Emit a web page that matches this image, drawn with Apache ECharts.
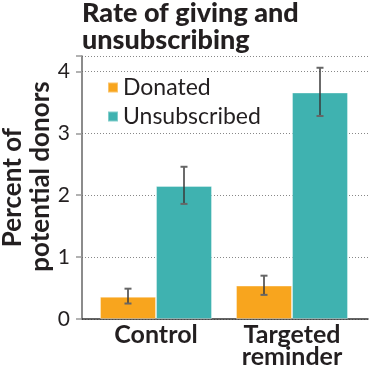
<!DOCTYPE html>
<html>
<head>
<meta charset="utf-8">
<script src="https://cdn.jsdelivr.net/npm/echarts@6/dist/echarts.min.js"></script>
<style>
html,body{margin:0;padding:0;background:#fff;}
#chart{width:370px;height:370px;}
</style>
</head>
<body>
<div id="chart"></div>
<script>
const categories = ['Control', 'Targeted\nreminder'];
const seriesNames = ['Donated', 'Unsubscribed'];
const donated = [0.36, 0.54];
const donatedLow = [0.25, 0.39];
const donatedHigh = [0.49, 0.70];
const unsubscribed = [2.15, 3.66];
const unsubscribedLow = [1.86, 3.28];
const unsubscribedHigh = [2.46, 4.06];
const yTicks = [0, 1, 2, 3, 4];

const colors = ['#F8A51E', '#3FB2B0'];
const BAR_W = 56;
const FONT = 'Lato, "Open Sans", sans-serif';

const errData = [];
categories.forEach((c, i) => {
  errData.push([i, donatedLow[i], donatedHigh[i], 0]);
  errData.push([i, unsubscribedLow[i], unsubscribedHigh[i], 1]);
});

const nameStyle = { fontFamily: FONT, fontSize: 26, fontWeight: 'bold', color: '#231f20', lineHeight: 28 };

const chart = echarts.init(document.getElementById('chart'));
chart.setOption({
  animation: false,
  title: {
    text: 'Rate of giving and\nunsubscribing',
    left: 82, top: 0, padding: 0,
    textStyle: { fontFamily: FONT, fontSize: 27, fontWeight: 900, color: '#231f20', lineHeight: 27 }
  },
  legend: {
    orient: 'vertical',
    left: 107, top: 76, padding: 0,
    itemWidth: 10, itemHeight: 10, itemGap: 6,
    icon: 'rect',
    data: seriesNames,
    textStyle: { fontFamily: FONT, fontSize: 23, color: '#231f20', lineHeight: 23 }
  },
  grid: [
    { left: 88, right: 10, top: 56, bottom: 51, outerBoundsMode: 'none', containLabel: false },
    { left: 82, right: 2, top: 56, bottom: 51, outerBoundsMode: 'none', containLabel: false }
  ],
  xAxis: [
    {
      gridIndex: 0, type: 'category', data: categories,
      axisLine: { show: false }, axisTick: { show: false },
      axisLabel: { fontFamily: FONT, fontSize: 25, fontWeight: 'bold', color: '#231f20', lineHeight: 22, margin: 5 }
    },
    {
      gridIndex: 1, type: 'value', min: 0, max: 1,
      axisLine: { show: true, lineStyle: { color: '#333', width: 1.5 } },
      axisTick: { show: false }, axisLabel: { show: false }, splitLine: { show: false }
    }
  ],
  yAxis: [
    { gridIndex: 0, type: 'value', min: 0, max: 4.25, show: false, splitLine: { show: false } },
    {
      gridIndex: 1, type: 'value', min: 0, max: 4.25, interval: 1,
      name: '{a|Percent of}\n{b|potential donors}',
      nameLocation: 'middle', nameGap: 27, nameMoveOverlap: false,
      nameTextStyle: Object.assign({}, nameStyle, {
        rich: {
          a: Object.assign({}, nameStyle),
          b: Object.assign({}, nameStyle, { padding: [0, 0, 0, 22] })
        }
      }),
      axisLine: { show: true, lineStyle: { color: '#666', width: 1.5 } },
      axisTick: { show: true, length: 6, lineStyle: { color: '#999', width: 1.5 } },
      axisLabel: {
        fontFamily: FONT, fontSize: 21, color: '#231f20', margin: 12,
        formatter: v => (yTicks.includes(v) ? String(v) : '')
      },
      splitLine: { show: true, lineStyle: { color: '#888', type: [1, 2], width: 1 } }
    }
  ],
  series: [
    {
      name: seriesNames[0], type: 'bar', xAxisIndex: 0, yAxisIndex: 0,
      data: donated, barWidth: BAR_W, barGap: '0%',
      itemStyle: { color: colors[0], borderColor: 'rgba(255,255,255,0.35)', borderWidth: 1 }
    },
    {
      name: seriesNames[1], type: 'bar', xAxisIndex: 0, yAxisIndex: 0,
      data: unsubscribed, barWidth: BAR_W, barGap: '0%',
      itemStyle: { color: colors[1], borderColor: 'rgba(255,255,255,0.35)', borderWidth: 1 }
    },
    {
      type: 'custom', xAxisIndex: 0, yAxisIndex: 0, z: 5,
      data: errData,
      renderItem: function (params, api) {
        const s = api.value(3);
        const off = s === 0 ? -BAR_W / 2 : BAR_W / 2;
        const lo = api.coord([api.value(0), api.value(1)]);
        const hi = api.coord([api.value(0), api.value(2)]);
        const x = lo[0] + off;
        const cw = 3.5;
        const st = { stroke: '#3a3a3a', lineWidth: 1.5 };
        const cs = { stroke: '#666', lineWidth: 2 };
        return {
          type: 'group',
          children: [
            { type: 'line', shape: { x1: x, y1: lo[1], x2: x, y2: hi[1] }, style: st },
            { type: 'line', shape: { x1: x - cw, y1: lo[1], x2: x + cw, y2: lo[1] }, style: cs },
            { type: 'line', shape: { x1: x - cw, y1: hi[1], x2: x + cw, y2: hi[1] }, style: cs }
          ]
        };
      }
    }
  ]
});
</script>
</body>
</html>
